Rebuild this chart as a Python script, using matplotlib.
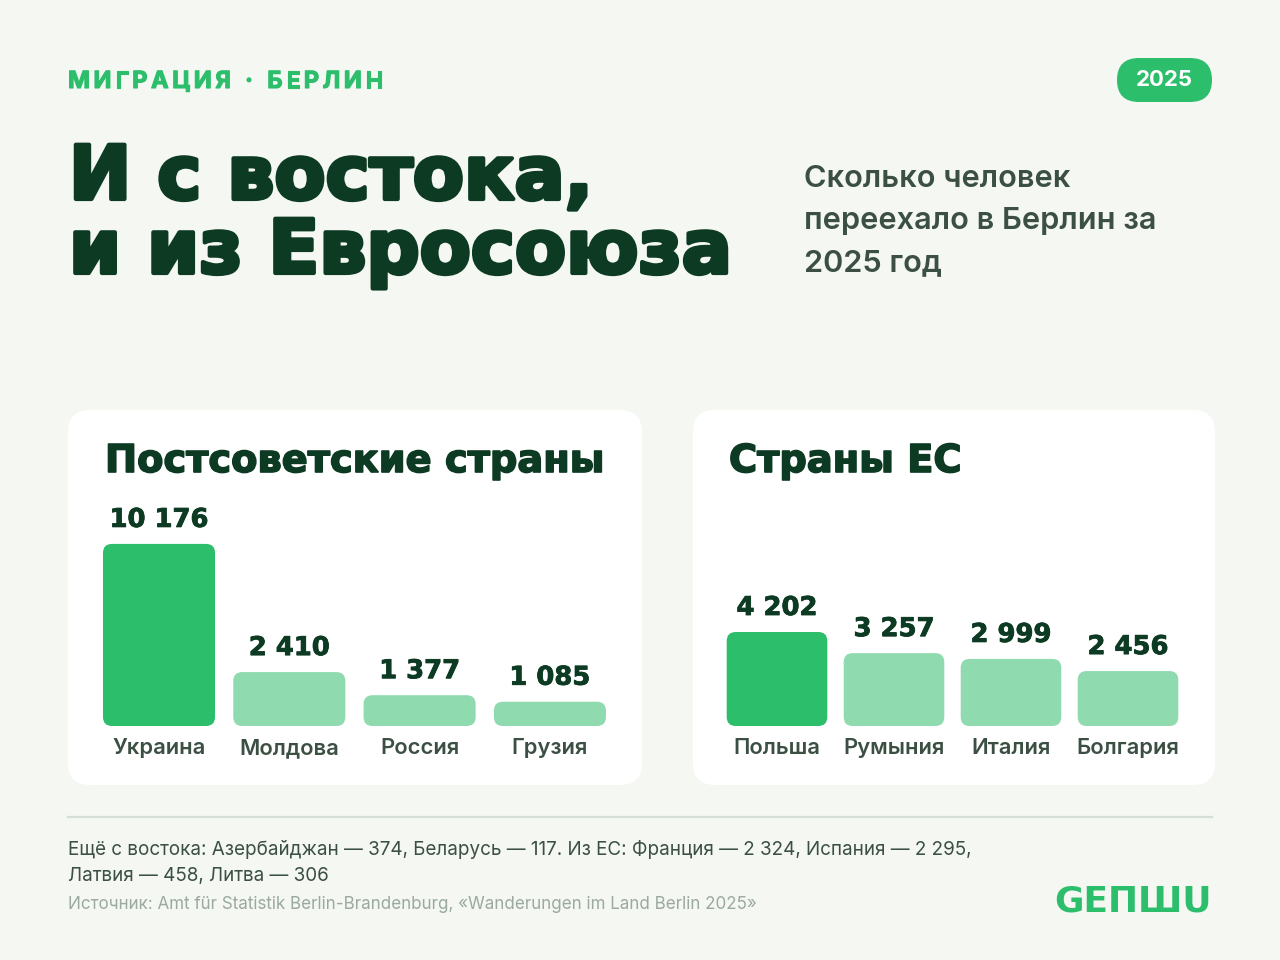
import matplotlib
matplotlib.use("Agg")
import matplotlib.pyplot as plt
import matplotlib.patheffects as pe
from matplotlib.patches import FancyBboxPatch

# data
east_names = ["Украина", "Молдова", "Россия", "Грузия"]
east_values = [10176, 2410, 1377, 1085]
eu_names = ["Польша", "Румыния", "Италия", "Болгария"]
eu_values = [4202, 3257, 2999, 2456]
# the Ukraine bar is drawn shortened in the original, value label stays real
bar_cap = 8140

# colours
BG = "#F4F7F2"
DARK = "#0D3A22"
GREEN = "#2DBE6C"
LIGHT = "#8FDAAE"
GREY = "#3B4F43"
SOURCE = "#9BA9A1"

HEAVY = dict(family="DejaVu Sans", weight="bold")
BODY = ["Inter", "DejaVu Sans"]


def thick(lw, color=DARK):
    # fake a heavier weight than DejaVu Bold
    return [pe.withStroke(linewidth=lw, foreground=color)]


W, H = 1280, 960
fig = plt.figure(figsize=(12.8, 9.6), dpi=100)
fig.patch.set_facecolor(BG)
bg = fig.add_axes([0, 0, 1, 1], zorder=0)
bg.set_xlim(0, W)
bg.set_ylim(H, 0)
bg.axis("off")
renderer = fig.canvas.get_renderer()


def fit(s, width, **kw):
    # font size that makes s about `width` pixels wide
    t = bg.text(0, 0, s, fontsize=50, **kw)
    w = t.get_window_extent(renderer).width
    t.remove()
    return 50 * width / w


def tracked(x, y, s, size, width, **kw):
    # letter-spaced text, spread to a given width
    ws = []
    for ch in s:
        if ch == " ":
            ws.append(size * 100 / 72 * 0.3)
        else:
            t = bg.text(0, 0, ch, fontsize=size, **kw)
            ws.append(t.get_window_extent(renderer).width)
            t.remove()
    track = (width - sum(ws)) / (len(s) - 1)
    for ch, w in zip(s, ws):
        bg.text(x, y, ch, fontsize=size, ha="left", va="baseline", **kw)
        x += w + track


# header
tracked(68, 88, "МИГРАЦИЯ · БЕРЛИН", 17, 315, color=GREEN, family=BODY, weight="bold",
        path_effects=thick(0.8, GREEN))
bg.add_patch(FancyBboxPatch((1117, 58), 95, 44, boxstyle="round,pad=0,rounding_size=22",
                            fc=GREEN, ec="none"))
bg.text(1164.5, 80, "2025", ha="center", va="center", color="white",
        fontsize=fit("2025", 57, family=BODY, weight="bold"), family=BODY, weight="bold")

# title
title_size = fit("и из Евросоюза", 664, **HEAVY)
bg.text(69, 199, "И с востока,", fontsize=title_size, color=DARK, va="baseline",
        path_effects=thick(3), **HEAVY)
bg.text(69, 273, "и из Евросоюза", fontsize=title_size, color=DARK, va="baseline",
        path_effects=thick(3), **HEAVY)

sub_size = fit("переехало в Берлин за", 351, family=BODY, weight="semibold")
for y, line in zip([187, 229, 271], ["Сколько человек", "переехало в Берлин за", "2025 год"]):
    bg.text(804, y, line, fontsize=sub_size, color=GREY, va="baseline",
            family=BODY, weight="semibold")

# panels
for x0, x1 in [(68, 642), (693, 1215)]:
    bg.add_patch(FancyBboxPatch((x0, 410), x1 - x0, 375,
                                boxstyle="round,pad=0,rounding_size=22",
                                fc="white", ec="none"))
panel_size = fit("Постсоветские страны", 500, **HEAVY)
bg.text(105, 472, "Постсоветские страны", fontsize=panel_size, color=DARK, va="baseline",
        path_effects=thick(1.2), **HEAVY)
bg.text(729, 472, "Страны ЕС", fontsize=panel_size, color=DARK, va="baseline",
        path_effects=thick(1.2), **HEAVY)

value_size = fit("10 176", 99, **HEAVY)
label_size = fit("Украина", 93, family=BODY, weight="semibold")

px_per_unit = 0.02237   # vertical scale shared by both panels
ax_top, ax_bottom = 496, 726
ymax = (ax_bottom - ax_top) / px_per_unit


def bar_panel(x_first, step, names, values):
    n = len(names)
    x0 = x_first - step / 2
    ax = fig.add_axes([x0 / W, 1 - ax_bottom / H, n * step / W, (ax_bottom - ax_top) / H],
                      zorder=1)
    ax.set_xlim(-0.5, n - 0.5)
    ax.set_ylim(0, ymax)
    ax.axis("off")
    ax.patch.set_alpha(0)
    aspect = step / px_per_unit
    bw = 0.86
    for i, (name, v) in enumerate(zip(names, values)):
        h = min(v, bar_cap)
        ax.add_patch(FancyBboxPatch((i - bw / 2, 0), bw, h,
                                    boxstyle="round,pad=0,rounding_size=%f" % (9 / step),
                                    mutation_aspect=aspect,
                                    fc=GREEN if i == 0 else LIGHT, ec="none"))
        ax.annotate(f"{v:,}".replace(",", " "), (i, h), xytext=(0, 24),
                    textcoords="offset pixels", ha="center", va="center",
                    fontsize=value_size, color=DARK, path_effects=thick(0.6), **HEAVY)
        ax.annotate(name, (i, 0), xytext=(0, -22), textcoords="offset pixels",
                    ha="center", va="center", fontsize=label_size, color=GREY,
                    family=BODY, weight="semibold")
    return ax


bar_panel(159, 130.3, east_names, east_values)
bar_panel(777, 117, eu_names, eu_values)

# footer
bg.plot([68, 1212], [817, 817], color="#D8DED8", lw=1.6)
note1 = "Ещё с востока: Азербайджан — 374, Беларусь — 117. Из ЕС: Франция — 2 324, Испания — 2 295,"
note2 = "Латвия — 458, Литва — 306"
note_size = fit(note1, 903, family=BODY)
bg.text(68, 855, note1, fontsize=note_size, color=GREY, va="baseline", family=BODY)
bg.text(68, 881, note2, fontsize=note_size, color=GREY, va="baseline", family=BODY)
source = "Источник: Amt für Statistik Berlin-Brandenburg, «Wanderungen im Land Berlin 2025»"
bg.text(68, 909, source, fontsize=fit(source, 690, family=BODY), color=SOURCE,
        va="baseline", family=BODY)
bg.text(1212, 911, "GEПШU", ha="right", va="baseline", color=GREEN,
        fontsize=fit("GEПШU", 158, **HEAVY), **HEAVY)

fig.savefig("out.png", dpi=100, facecolor=BG)
